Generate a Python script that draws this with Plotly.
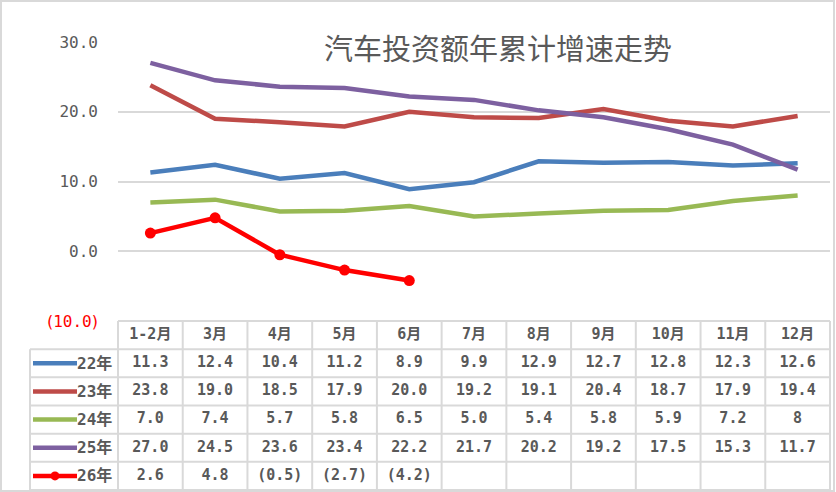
import plotly.graph_objects as go

# ---------------- data ----------------
months = ["1-2月", "3月", "4月", "5月", "6月", "7月", "8月", "9月", "10月", "11月", "12月"]
series_names = ["22年", "23年", "24年", "25年", "26年"]
s22 = [11.3, 12.4, 10.4, 11.2, 8.9, 9.9, 12.9, 12.7, 12.8, 12.3, 12.6]
s23 = [23.8, 19.0, 18.5, 17.9, 20.0, 19.2, 19.1, 20.4, 18.7, 17.9, 19.4]
s24 = [7.0, 7.4, 5.7, 5.8, 6.5, 5.0, 5.4, 5.8, 5.9, 7.2, 8]
s25 = [27.0, 24.5, 23.6, 23.4, 22.2, 21.7, 20.2, 19.2, 17.5, 15.3, 11.7]
s26 = [2.6, 4.8, -0.5, -2.7, -4.2]
y_ticks = [-10, 0, 10, 20, 30]
title_text = "汽车投资额年累计增速走势"

series_values = [s22, s23, s24, s25, s26]
colors = ["#4A7EBB", "#BE4B48", "#98B954", "#7D60A0", "#FF0000"]
has_marker = [False, False, False, False, True]

# ---------------- layout constants (pixels) ----------------
W, H = 836, 492
PL, PR = 118, 830        # plot area left/right
PT, PB = 42, 321         # plot area top/bottom
TB = 490                 # table bottom
LEGL = 30                # legend column left
GRID = "#D9D9D9"
TXT = "#595959"
MONO = "DejaVu Sans Mono, Noto Sans CJK SC, sans-serif"

n = len(months)
u = (PR - PL) / n
rows = len(series_names) + 1
rh = (TB - PB) / rows


def px_to_x(px):
    return -0.5 + (px - PL) / u


def fmt(v):
    if isinstance(v, int):
        return str(v) if v >= 0 else f"({abs(v)})"
    return f"{v:.1f}" if v >= 0 else f"({abs(v):.1f})"


fig = go.Figure()

# ---------------- lines ----------------
for name, vals, col, mk in zip(series_names, series_values, colors, has_marker):
    fig.add_trace(go.Scatter(
        x=list(range(len(vals))), y=vals, name=name,
        mode="lines+markers" if mk else "lines",
        line=dict(color=col, width=4.5),
        marker=dict(size=11, color=col) if mk else None,
        xaxis="x", yaxis="y", showlegend=False, hoverinfo="skip",
    ))

# ---------------- table ----------------
fig.add_trace(go.Scatter(
    x=list(range(n)), y=[0] * n, text=months, mode="text",
    textfont=dict(family=MONO, size=15, color=TXT, weight="bold"),
    xaxis="x2", yaxis="y2", showlegend=False, hoverinfo="skip", cliponaxis=False,
))
for r, (name, vals, col, mk) in enumerate(zip(series_names, series_values, colors, has_marker), start=1):
    fig.add_trace(go.Scatter(
        x=list(range(len(vals))), y=[r] * len(vals), text=[fmt(v) for v in vals],
        mode="text",
        textfont=dict(family=MONO, size=15, color=TXT, weight="bold"),
        xaxis="x2", yaxis="y2", showlegend=False, hoverinfo="skip", cliponaxis=False,
    ))
    x0, x1 = px_to_x(LEGL + 3), px_to_x(LEGL + 47)
    fig.add_trace(go.Scatter(
        x=[x0, x1], y=[r, r], mode="lines",
        line=dict(color=col, width=4.5),
        xaxis="x2", yaxis="y2", showlegend=False, hoverinfo="skip", cliponaxis=False,
    ))
    if mk:
        fig.add_trace(go.Scatter(
            x=[(x0 + x1) / 2], y=[r], mode="markers",
            marker=dict(size=9, color=col),
            xaxis="x2", yaxis="y2", showlegend=False, hoverinfo="skip", cliponaxis=False,
        ))
    fig.add_annotation(
        x=px_to_x(PL - 4), y=r, xref="x2", yref="y2", text=name,
        showarrow=False, xanchor="right", yanchor="middle",
        font=dict(family=MONO, size=16, color=TXT, weight="bold"),
    )

# table grid
shapes = []
legx = px_to_x(LEGL)
for k in range(rows + 1):
    yb = k - 0.5
    xs = -0.5 if k == 0 else legx
    shapes.append(dict(type="line", xref="x2", yref="y2", x0=xs, x1=n - 0.5, y0=yb, y1=yb,
                       line=dict(color=GRID, width=2)))
for i in range(n + 1):
    xb = i - 0.5
    shapes.append(dict(type="line", xref="x2", yref="y2", x0=xb, x1=xb, y0=-0.5, y1=rows - 0.5,
                       line=dict(color=GRID, width=2)))
shapes.append(dict(type="line", xref="x2", yref="y2", x0=legx, x1=legx, y0=0.5, y1=rows - 0.5,
                   line=dict(color=GRID, width=2)))
# outer chart border
shapes.append(dict(type="rect", xref="paper", yref="paper", x0=1 / W, x1=834 / W, y0=1 / H, y1=1 - 1 / H,
                   line=dict(color=GRID, width=2), fillcolor="rgba(0,0,0,0)"))

PAREN = "<span style='font-family:DejaVu Sans'>{}</span>"
ticktext = [
    f"<span style='color:#FF0000'>{PAREN.format('(')}{abs(v):.1f}{PAREN.format(')')}</span>"
    if v < 0 else f"{v:.1f}"
    for v in y_ticks
]

fig.update_layout(
    width=W, height=H,
    margin=dict(l=0, r=0, t=0, b=0, autoexpand=False),
    paper_bgcolor="white", plot_bgcolor="rgba(0,0,0,0)",
    title=dict(text=title_text, x=498 / W, xanchor="center", y=1 - 50 / H, yanchor="middle",
               font=dict(family="Noto Sans CJK SC, sans-serif", size=29, color=TXT)),
    xaxis=dict(domain=[PL / W, PR / W], range=[-0.5, n - 0.5], showgrid=False, zeroline=False,
               showticklabels=False, showline=False, fixedrange=True, automargin=False),
    yaxis=dict(domain=[1 - PB / H, 1 - PT / H], range=[-10, 30], tickvals=y_ticks, ticktext=ticktext,
               showgrid=True, gridcolor=GRID, gridwidth=2, zeroline=False, showline=False,
               tickfont=dict(family=MONO, size=16, color=TXT), ticklabelstandoff=19,
               automargin=False),
    xaxis2=dict(domain=[(LEGL - 4) / W, (PR + 4) / W], range=[px_to_x(LEGL - 4), px_to_x(PR + 4)],
                anchor="y2", visible=False, automargin=False),
    yaxis2=dict(domain=[max(0, 1 - (TB + 2) / H), 1 - (PB - 2) / H],
                range=[rows - 0.5 + 2 / rh, -0.5 - 2 / rh], anchor="x2", visible=False,
                automargin=False),
    shapes=shapes,
)

fig.write_html("out.html")
